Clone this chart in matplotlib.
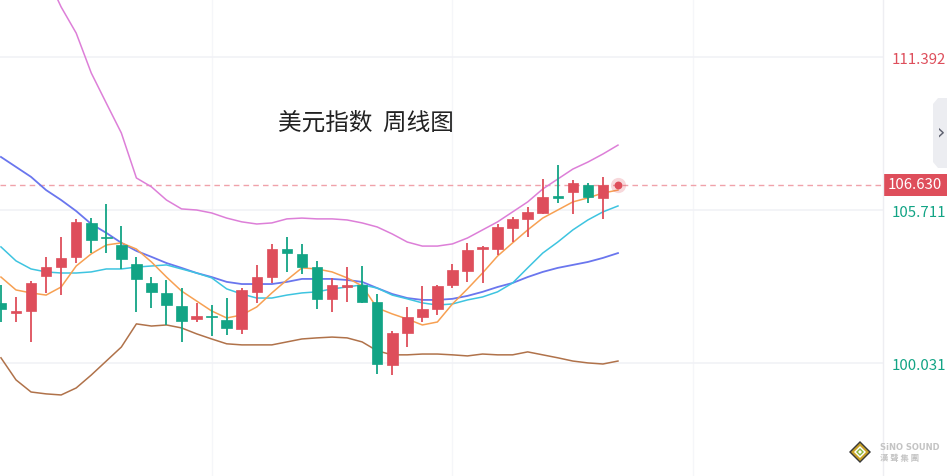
import numpy as np
import matplotlib
matplotlib.use("Agg")
import matplotlib.pyplot as plt
from matplotlib.patches import Polygon, Rectangle

plt.rcParams['font.family'] = ['Noto Sans CJK SC', 'DejaVu Sans']

# ---------------- data (weekly USD index) ----------------
opens = [102.26, 101.90, 101.96, 103.26, 103.59, 103.97, 105.23, 104.69, 104.41, 103.71,
         103.00, 102.63, 102.15, 101.66, 101.75, 101.63, 101.29, 102.67, 103.22, 104.26,
         104.08, 103.59, 102.41, 102.85, 102.93, 102.29, 99.96, 101.14, 101.74, 102.03,
         102.93, 103.45, 104.26, 104.26, 105.04, 105.38, 105.60, 106.23, 106.38, 106.64,
         106.16]
closes = [102.03, 101.94, 103.00, 103.59, 103.93, 105.27, 104.60, 104.66, 103.89, 103.15,
          102.67, 102.18, 101.59, 101.78, 101.73, 101.33, 102.74, 103.22, 104.26, 104.11,
          103.59, 102.41, 102.93, 102.93, 102.29, 99.99, 101.14, 101.74, 102.03, 102.89,
          103.48, 104.23, 104.30, 105.08, 105.38, 105.64, 106.19, 106.16, 106.71, 106.19,
          106.63]
highs = [102.93, 102.48, 103.07, 103.97, 104.71, 105.38, 105.41, 105.93, 105.12, 103.97,
         103.22, 103.11, 102.81, 102.26, 102.18, 102.44, 102.81, 103.67, 104.45, 104.71,
         104.45, 103.82, 103.19, 103.59, 103.63, 102.59, 101.22, 102.11, 102.89, 102.93,
         103.71, 104.49, 104.37, 105.19, 105.45, 105.82, 106.86, 107.38, 106.83, 106.71,
         106.94]
lows = [101.55, 101.55, 100.81, 102.63, 102.55, 103.74, 104.11, 104.11, 103.52, 101.92,
        102.07, 101.44, 100.81, 101.55, 101.03, 101.07, 101.11, 102.26, 103.00, 103.41,
        103.33, 102.03, 101.92, 102.29, 102.26, 99.62, 99.58, 100.62, 101.55, 101.81,
        102.81, 103.04, 103.00, 104.04, 104.52, 104.71, 105.56, 105.97, 105.56, 105.97,
        105.38]

ma_fast = [103.22, 102.74, 102.63, 102.55, 102.85, 103.63, 104.08, 104.41, 104.49, 104.26,
           103.78, 103.22, 102.70, 102.33, 101.96, 101.70, 101.81, 102.11, 102.63, 103.11,
           103.56, 103.52, 103.41, 103.19, 102.89, 102.07, 101.85, 101.66, 101.44, 101.55,
           102.22, 102.78, 103.37, 104.00, 104.49, 104.97, 105.41, 105.71, 106.01, 106.16,
           106.34, 106.45]
ma_mid = [104.34, 103.82, 103.52, 103.41, 103.37, 103.37, 103.41, 103.52, 103.52, 103.59,
          103.63, 103.67, 103.52, 103.37, 103.19, 102.78, 102.59, 102.44, 102.44, 102.55,
          102.63, 102.67, 102.78, 102.85, 102.93, 102.81, 102.55, 102.41, 102.26, 102.18,
          102.22, 102.37, 102.48, 102.67, 103.00, 103.56, 104.11, 104.52, 104.97, 105.34,
          105.64, 105.86]
ma_slow = [107.68, 107.31, 106.94, 106.45, 106.08, 105.67, 105.19, 104.86, 104.49, 104.19,
           103.97, 103.74, 103.56, 103.37, 103.22, 103.04, 102.96, 102.96, 102.96, 103.04,
           103.15, 103.15, 103.15, 103.11, 103.04, 102.81, 102.59, 102.44, 102.37, 102.37,
           102.41, 102.52, 102.67, 102.85, 103.00, 103.22, 103.41, 103.56, 103.67, 103.78,
           103.93, 104.11]
band_upper = [117.41, 116.48, 115.55, 114.44, 113.25, 112.28, 110.80, 109.68, 108.57, 106.90,
              106.57, 106.08, 105.75, 105.71, 105.60, 105.41, 105.27, 105.19, 105.23, 105.38,
              105.41, 105.38, 105.38, 105.34, 105.23, 105.08, 104.82, 104.52, 104.37, 104.37,
              104.45, 104.67, 104.97, 105.27, 105.64, 106.01, 106.49, 106.86, 107.23, 107.49,
              107.79, 108.12]
band_lower = [100.22, 99.40, 98.95, 98.88, 98.84, 99.10, 99.58, 100.10, 100.62, 101.48,
              101.40, 101.44, 101.33, 101.11, 100.92, 100.74, 100.70, 100.70, 100.70, 100.81,
              100.92, 100.96, 100.99, 100.96, 100.81, 100.48, 100.33, 100.33, 100.36, 100.36,
              100.33, 100.29, 100.36, 100.33, 100.33, 100.44, 100.33, 100.22, 100.10, 100.03,
              99.99, 100.10]

grid_levels = [100.031, 105.711, 111.392]
grid_labels = ["100.031", "105.711", "111.392"]
last_price = 106.630
title_text = "美元指数  周线图"

# ---------------- styling ----------------
RED = '#DE4E5B'
GREEN = '#12A485'
W, H = 947, 476
plot_right = 883
YMIN, YMAX = 95.83, 113.51

fig = plt.figure(figsize=(W / 100, H / 100), dpi=100)
fig.patch.set_facecolor('white')
ax = fig.add_axes([0, 0, plot_right / W, 1])
ax.set_facecolor('white')
for s in ax.spines.values():
    s.set_visible(False)

ax.set_ylim(YMIN, YMAX)
ax.set_xlim(-0.063, 58.61)

# grid
ax.set_yticks(grid_levels)
ax.set_xticks([14, 30, 46])
ax.grid(True, axis='y', color='#f1f2f6', lw=1.2)
ax.grid(True, axis='x', color='#f5f6f9', lw=1.0)
ax.set_axisbelow(True)
ax.tick_params(axis='both', length=0, labelleft=False, labelbottom=False)

# indicator lines
xl = np.arange(len(ma_fast))
ax.plot(xl, band_upper, color='#DD7FD8', lw=1.1, zorder=2)
ax.plot(xl, band_lower, color='#B0724A', lw=1.1, zorder=2)
ax.plot(xl, ma_slow, color='#6A76EE', lw=1.3, zorder=2)
ax.plot(xl, ma_mid, color='#3EC4E0', lw=1.1, zorder=2)
ax.plot(xl, ma_fast, color='#F7A052', lw=1.1, zorder=2)

# candles
o = np.array(opens); c = np.array(closes)
h = np.array(highs); l = np.array(lows)
xc = np.arange(len(o))
up = c >= o
cols = np.where(up, RED, GREEN)
ax.vlines(xc, l, h, colors=cols, lw=1.3, zorder=3)
body_bottom = np.minimum(o, c)
body_h = np.maximum(np.abs(c - o), 0.06)
ax.bar(xc, body_h, bottom=body_bottom, width=0.7, color=cols, edgecolor=cols,
       linewidth=0.5, zorder=4)

# last price line + marker
ax.axhline(last_price, color='#F0A2AA', lw=1.0, ls=(0, (4, 3)), zorder=1)
ax.scatter([len(c)], [c[-1]], s=120, color=RED, alpha=0.22, lw=0, zorder=5)
ax.scatter([len(c)], [c[-1]], s=32, color=RED, lw=0, zorder=6)

# title
ax.text(278 / plot_right, 1 - 123 / H, title_text, transform=ax.transAxes,
        fontsize=17, color='#222222', ha='left', va='center')

# right axis area
fig.add_artist(plt.Line2D([plot_right / W] * 2, [0, 1], color='#eeeef2', lw=1.0))
label_colors = {"111.392": RED, "105.711": GREEN, "100.031": GREEN}
label_offset = {"111.392": -3, "105.711": -3, "100.031": -3}
for v, t in zip(grid_levels, grid_labels):
    yf = (v - YMIN) / (YMAX - YMIN) + label_offset[t] / H
    fig.text(892 / W, yf, t, fontsize=10.8, color=label_colors[t], ha='left', va='center')

yf_last = (last_price - YMIN) / (YMAX - YMIN)
fig.add_artist(Rectangle((plot_right / W, yf_last - 11 / H), (W - plot_right) / W, 22 / H,
                         transform=fig.transFigure, facecolor=RED, edgecolor='none'))
fig.text((plot_right + 32) / W, yf_last, f"{last_price:.3f}", fontsize=10.8, color='white',
         ha='center', va='center')

# collapse button
btn = [(947, 98), (938, 98), (933, 104), (933, 162), (938, 168), (947, 168)]
fig.add_artist(Polygon([(x / W, 1 - y / H) for x, y in btn], closed=True,
                       transform=fig.transFigure, facecolor='#ECEDF1', edgecolor='none'))
fig.text(941.5 / W, 1 - 132 / H, "›", fontsize=15, color='#5f6270', ha='center', va='center',
         family='DejaVu Sans')

# logo
cx, cy = 860, 452
def diamond(r, fc):
    pts = [(cx, cy - r), (cx + r, cy), (cx, cy + r), (cx - r, cy)]
    fig.add_artist(Polygon([(x / W, 1 - y / H) for x, y in pts], closed=True,
                           transform=fig.transFigure, facecolor=fc, edgecolor='none'))
diamond(11, '#3a3a3a')
diamond(9, '#C9A227')
diamond(6, 'white')
diamond(4, '#8DB83A')
diamond(2, 'white')
fig.text(880 / W, 1 - 448 / H, "SiNO SOUND", fontsize=6, fontweight='bold', color='#C4C4C4',
         ha='left', va='center', family='DejaVu Sans')
fig.text(880 / W, 1 - 459 / H, "漢 聲 集 團", fontsize=6, fontweight='bold', color='#C4C4C4',
         ha='left', va='center', family=['Noto Sans CJK TC', 'DejaVu Sans'])

fig.savefig('out.png', dpi=100, facecolor='white')
